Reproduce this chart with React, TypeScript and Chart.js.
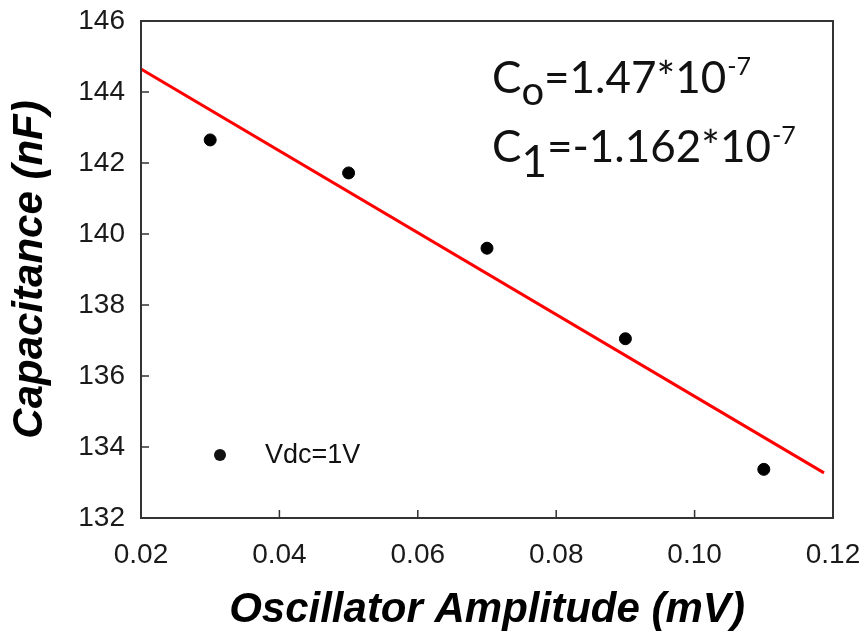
import React, { useEffect, useRef } from "react";
import { Chart, registerables } from "chart.js";

Chart.register(...registerables);

// ---- data ----
const amplitudes = [0.03, 0.05, 0.07, 0.09, 0.11];
const capacitance = [142.65, 141.72, 139.6, 137.05, 133.37];
const fitX = [0.02, 0.1187];
const fitY = [144.65, 133.27];
const xTicks = [0.02, 0.04, 0.06, 0.08, 0.1, 0.12];
const yTicks = [132, 134, 136, 138, 140, 142, 144, 146];
const seriesLabel = "Vdc=1V";
const xTitle = "Oscillator Amplitude (mV)";
const yTitle = "Capacitance (nF)";
const fitBase = ["C", "C"];
const fitSub = ["o", "1"];
const fitMain = ["=1.47*10", "=-1.162*10"];
const fitSup = ["-7", "-7"];

const TICK_FONT = "'Liberation Sans', Arial, sans-serif";
const ANNOT_FONT = "Lato, 'Open Sans', sans-serif";

const framePlugin = {
  id: "frame",
  afterDatasetsDraw(chart: any) {
    const { ctx, chartArea: a, scales } = chart;
    ctx.save();
    ctx.strokeStyle = "#333";
    ctx.lineWidth = 2;
    ctx.strokeRect(a.left, a.top, a.right - a.left, a.bottom - a.top);
    ctx.lineWidth = 1.5;
    ctx.beginPath();
    for (const t of scales.x.ticks) {
      const px = scales.x.getPixelForValue(t.value);
      if (px <= a.left + 2 || px >= a.right - 2) continue;
      ctx.moveTo(px, a.bottom);
      ctx.lineTo(px, a.bottom - 8);
    }
    for (const t of scales.y.ticks) {
      const py = scales.y.getPixelForValue(t.value);
      if (py <= a.top + 2 || py >= a.bottom - 2) continue;
      ctx.moveTo(a.left, py);
      ctx.lineTo(a.left + 8, py);
    }
    ctx.stroke();
    ctx.restore();
  },
};

const annotPlugin = {
  id: "annot",
  afterDraw(chart: any) {
    const { ctx } = chart;
    ctx.save();
    ctx.fillStyle = "#111";
    ctx.textAlign = "left";
    // legend
    const ds = chart.data.datasets[0];
    ctx.beginPath();
    ctx.arc(220, 455, 6, 0, Math.PI * 2);
    ctx.fill();
    ctx.font = `27px ${TICK_FONT}`;
    ctx.textBaseline = "middle";
    ctx.fillText(ds.label, 265, 456);
    // fit coefficients
    ctx.textBaseline = "alphabetic";
    const baselines = [93, 162];
    const subDrop = [12, 15];
    for (let i = 0; i < fitBase.length; i++) {
      let x = 492;
      const by = baselines[i];
      ctx.font = `44px ${ANNOT_FONT}`;
      ctx.fillText(fitBase[i], x, by);
      x += ctx.measureText(fitBase[i]).width;
      ctx.font = `${i === 0 ? 40 : 44}px ${ANNOT_FONT}`;
      ctx.fillText(fitSub[i], x, by + subDrop[i]);
      x += ctx.measureText(fitSub[i]).width;
      ctx.font = `44px ${ANNOT_FONT}`;
      ctx.fillText(fitMain[i], x, by);
      x += ctx.measureText(fitMain[i]).width + 1;
      ctx.font = `25px ${ANNOT_FONT}`;
      ctx.fillText(fitSup[i], x, by - 18);
    }
    ctx.restore();
  },
};

export default function App() {
  const ref = useRef<HTMLCanvasElement | null>(null);
  useEffect(() => {
    if (!ref.current) return;
    const chart = new Chart(ref.current, {
      type: "scatter",
      data: {
        datasets: [
          {
            label: seriesLabel,
            data: amplitudes.map((x, i) => ({ x, y: capacitance[i] })),
            backgroundColor: "#000",
            borderColor: "#000",
            pointRadius: 6,
            pointHoverRadius: 6,
            order: 1,
          },
          {
            label: "fit",
            type: "line",
            data: fitX.map((x, i) => ({ x, y: fitY[i] })),
            borderColor: "#ff0000",
            borderWidth: 3,
            pointRadius: 0,
            showLine: true,
            fill: false,
            order: 2,
          } as any,
        ],
      },
      options: {
        animation: false,
        responsive: false,
        maintainAspectRatio: false,
        layout: { padding: { top: 21, right: 34, left: 0, bottom: 0 } },
        plugins: { legend: { display: false }, tooltip: { enabled: false } },
        scales: {
          x: {
            type: "linear",
            min: 0.02,
            max: 0.12,
            grid: { display: false, drawTicks: false },
            border: { display: false },
            afterBuildTicks: (s: any) => {
              s.ticks = xTicks.map((v) => ({ value: v }));
            },
            afterFit: (s: any) => {
              s.height = 116;
              s.paddingLeft = 0;
              s.paddingRight = 0;
            },
            ticks: {
              padding: 20,
              color: "#1a1a1a",
              font: { family: TICK_FONT, size: 28 },
              callback: (v: any) => Number(v).toFixed(2),
              maxRotation: 0,
            },
            title: {
              display: true,
              text: xTitle,
              color: "#000",
              font: { family: TICK_FONT, size: 42, weight: "bold", style: "italic", lineHeight: 1 },
              padding: { top: 0, bottom: 3 },
            },
          },
          y: {
            type: "linear",
            min: 132,
            max: 146,
            grid: { display: false, drawTicks: false },
            border: { display: false },
            afterBuildTicks: (s: any) => {
              s.ticks = yTicks.map((v) => ({ value: v }));
            },
            afterFit: (s: any) => {
              s.width = 141;
              s.paddingTop = 0;
              s.paddingBottom = 0;
            },
            ticks: {
              padding: 16,
              color: "#1a1a1a",
              font: { family: TICK_FONT, size: 28 },
              callback: (v: any) => String(v),
            },
            title: {
              display: true,
              text: yTitle,
              color: "#000",
              font: { family: TICK_FONT, size: 42, weight: "bold", style: "italic", lineHeight: 1 },
              padding: { top: 9, bottom: 0 },
            },
          },
        },
      },
      plugins: [framePlugin, annotPlugin],
    });
    return () => chart.destroy();
  }, []);
  return (
    <div style={{ position: "absolute", left: 0, top: 0, width: 867, height: 634, background: "#fff" }}>
      <canvas ref={ref} width={867} height={634} style={{ width: 867, height: 634, display: "block" }} />
    </div>
  );
}
